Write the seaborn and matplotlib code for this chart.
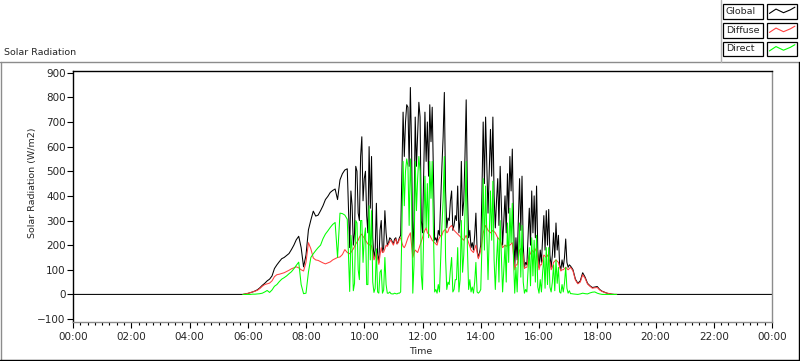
import numpy as np
import pandas as pd
import matplotlib
matplotlib.use('Agg')
import matplotlib.pyplot as plt
import seaborn as sns
from matplotlib.patches import Rectangle
from matplotlib.lines import Line2D
from matplotlib.ticker import MultipleLocator, FuncFormatter

# =========================
# Solar radiation, one day (W/m2)
# morning / evening every 5 min, broken-cloud period every 2.5 min
# =========================
morning_min = np.arange(350, 566, 5)      # 05:50 - 09:25
cloudy_min = np.arange(570, 1028, 2.5)    # 09:30 - 17:07.5
evening_min = np.arange(1030, 1121, 5)    # 17:10 - 18:40

global_morning = [
    0, 2,
    4, 7, 10, 14, 19, 27, 37, 45, 55, 62, 75, 105,
    120, 133, 145, 150, 158, 166, 182, 200, 222, 236, 190, 112,
    160, 262, 302, 338, 318, 322, 340, 360, 385, 398, 414, 422,
    428, 385, 465, 490, 505, 510,
]
diffuse_morning = [
    0, 2,
    4, 7, 10, 13, 17, 24, 33, 40, 43, 46, 55, 72,
    80, 82, 85, 88, 93, 98, 104, 108, 112, 108, 100, 95,
    130, 210, 185, 148, 140, 138, 133, 128, 124, 128, 132, 140,
    145, 150, 152, 162, 182, 170,
]
direct_morning = [
    0, 0,
    0, 0, 1, 1, 2, 3, 5, 10, 16, 8, 18, 33,
    40, 52, 62, 68, 75, 84, 92, 104, 118, 131, 40, 3,
    5, 90, 150, 165, 178, 190, 200, 226, 245, 258, 272, 284,
    292, 150, 330, 328, 322, 305,
]

# one line per half hour
global_cloudy = [
    190, 420, 360, 200, 250, 520, 500, 330, 300, 560, 640, 380,
    470, 500, 320, 250, 600, 350, 560, 230, 150, 180, 370, 160,
    130, 260, 300, 170, 190, 340, 250, 200, 210, 230, 225, 215,
    205, 225, 230, 205, 215, 230, 240, 480, 740, 560, 700, 770,
    760, 520, 840, 600, 160, 300, 720, 520, 650, 780, 720, 300,
    250, 500, 740, 540, 700, 480, 770, 620, 760, 480, 220, 230,
    210, 260, 240, 380, 520, 640, 820, 420, 270, 310, 300, 380,
    420, 260, 280, 320, 300, 440, 250, 300, 540, 320, 380, 560,
    790, 420, 230, 260, 190, 210, 180, 240, 330, 180, 150, 170,
    200, 420, 700, 450, 720, 520, 330, 500, 670, 480, 720, 400,
    270, 380, 470, 280, 520, 360, 200, 300, 400, 250, 490, 330,
    560, 420, 590, 300, 110, 230, 140, 300, 470, 260, 480, 200,
    110, 130, 120, 240, 350, 200, 420, 250, 400, 230, 440, 180,
    110, 180, 130, 230, 320, 180, 340, 200, 345, 160, 110, 160,
    250, 150, 290, 180, 240, 120, 100, 140, 110, 150, 225, 130,
    110, 120, 115, 108,
]
diffuse_cloudy = [
    165, 170, 178, 185, 195, 205, 212, 220, 232, 240, 245, 235,
    230, 220, 212, 205, 200, 205, 196, 170, 140, 150, 172, 150,
    122, 160, 190, 170, 172, 185, 200, 195, 205, 215, 220, 210,
    200, 215, 225, 205, 210, 225, 230, 210, 195, 190, 200, 215,
    230, 240, 250, 200, 150, 170, 180, 175, 170, 185, 200, 215,
    230, 250, 260, 270, 250, 245, 240, 230, 220, 215, 210, 205,
    200, 220, 230, 240, 240, 255, 260, 265, 250, 255, 270, 275,
    280, 270, 260, 255, 250, 245, 240, 235, 230, 225, 220, 230,
    240, 225, 210, 195, 180, 175, 170, 185, 200, 170, 145, 160,
    180, 215, 250, 265, 280, 270, 260, 255, 250, 255, 260, 255,
    250, 240, 230, 225, 220, 205, 190, 195, 200, 195, 200, 200,
    200, 205, 210, 160, 100, 120, 120, 150, 180, 185, 190, 150,
    105, 110, 110, 140, 160, 165, 180, 175, 170, 180, 190, 150,
    100, 120, 120, 140, 160, 155, 150, 160, 150, 130, 100, 110,
    130, 135, 140, 135, 130, 110, 95, 100, 100, 105, 110, 105,
    100, 105, 110, 103,
]
direct_cloudy = [
    12, 240, 180, 15, 45, 300, 290, 100, 60, 300, 300, 130,
    230, 270, 40, 40, 360, 140, 340, 50, 8, 25, 185, 10,
    5, 90, 100, 5, 18, 150, 40, 5, 5, 10, 3, 2,
    2, 5, 3, 2, 5, 5, 10, 260, 540, 360, 500, 550,
    520, 280, 550, 390, 5, 120, 540, 340, 470, 560, 500, 80,
    20, 240, 480, 270, 450, 230, 540, 390, 540, 260, 10, 20,
    5, 40, 10, 140, 280, 380, 560, 150, 20, 50, 40, 100,
    150, 10, 20, 60, 60, 190, 10, 60, 300, 90, 160, 330,
    540, 190, 20, 60, 10, 30, 5, 50, 130, 10, 5, 10,
    20, 200, 470, 180, 440, 250, 60, 240, 420, 220, 460, 140,
    20, 140, 230, 50, 300, 150, 10, 100, 200, 50, 290, 130,
    350, 210, 370, 140, 5, 110, 10, 150, 290, 70, 280, 50,
    5, 20, 10, 100, 190, 35, 230, 75, 220, 50, 240, 30,
    5, 60, 10, 90, 150, 25, 190, 40, 190, 30, 10, 50,
    120, 15, 140, 45, 110, 10, 5, 40, 10, 45, 110, 25,
    5, 15, 3, 3,
]

global_evening = [100, 62, 45, 55, 88, 70, 45, 35, 28, 30, 32, 20, 13, 9, 5, 3, 1, 0, 0]
diffuse_evening = [95, 58, 43, 50, 80, 65, 42, 33, 25, 27, 28, 18, 12, 8, 5, 3, 1, 0, 0]
direct_evening = [2, 1, 0, 2, 5, 3, 2, 6, 9, 10, 5, 2, 0, 0, 0, 0, 0, 0, 0]

hours = np.concatenate([morning_min, cloudy_min, evening_min]) / 60
df = pd.DataFrame({
    'hour': hours,
    'Global': global_morning + global_cloudy + global_evening,
    'Diffuse': diffuse_morning + diffuse_cloudy + diffuse_evening,
    'Direct': direct_morning + direct_cloudy + direct_evening,
})

# global is logged for the whole day (zero at night)
night = pd.DataFrame({'hour': [0.0, 24.0], 'Global': [0, 0]})
df_global = pd.concat([night.iloc[:1], df[['hour', 'Global']], night.iloc[1:]])

sns.set_style('white')
plt.rcParams['font.family'] = ['DejaVu Sans']

W, H = 800, 361
fig = plt.figure(figsize=(W / 100, H / 100), dpi=100)
ax = fig.add_axes([73 / W, 1 - 322 / H, (772 - 73) / W, (322 - 71) / H])

sns.lineplot(data=df_global, x='hour', y='Global', color='black', lw=0.75,
             estimator=None, sort=False, ax=ax)
sns.lineplot(data=df, x='hour', y='Diffuse', color='#ff4040', lw=0.75,
             estimator=None, sort=False, ax=ax)
sns.lineplot(data=df, x='hour', y='Direct', color='#00ff00', lw=0.75,
             estimator=None, sort=False, ax=ax)

ax.set_xlim(0, 24)
ax.set_ylim(-112, 907)
ax.xaxis.set_major_locator(MultipleLocator(2))
ax.xaxis.set_minor_locator(MultipleLocator(0.25))
ax.yaxis.set_major_locator(MultipleLocator(100))
ax.xaxis.set_major_formatter(FuncFormatter(lambda v, p: f"{int(round(v)) % 24:02d}:00"))

ax.tick_params(axis='x', which='major', direction='out', length=4.5, width=0.8,
               pad=2.5, labelsize=7.5, bottom=True, color='black')
ax.tick_params(axis='x', which='minor', direction='out', length=2.2, width=0.8,
               bottom=True, color='black')
ax.tick_params(axis='y', direction='out', length=4.3, width=0.8, pad=1,
               labelsize=7.5, left=True, color='black')

for side in ['left', 'top']:
    ax.spines[side].set_color('black')
    ax.spines[side].set_linewidth(1)
for side in ['right', 'bottom']:
    ax.spines[side].set_color('#8c8c8c')
    ax.spines[side].set_linewidth(1)

ax.set_ylabel('Solar Radiation (W/m2)', fontsize=6.8)
ax.yaxis.set_label_coords(-0.0515, 0.554)
ax.set_xlabel('Time', fontsize=6.8, va='top')
ax.xaxis.set_label_coords((421 - 73) / 699, -(347 - 322) / 251)

# panel title and frame
fig.text(4 / W, 1 - 52.5 / H, 'Solar Radiation', fontsize=6.8, ha='left', va='center')

def fline(xs, ys, color):
    fig.add_artist(Line2D([x / W for x in xs], [1 - y / H for y in ys],
                          color=color, lw=1, transform=fig.transFigure))

fline([0, 800], [61.5, 61.5], '#8c8c8c')
fline([1, 1], [61.5, 361], '#8c8c8c')
fline([721, 721], [0, 61.5], '#b0b0b0')
fline([0, 799], [359.5, 359.5], 'black')
fline([798.5, 798.5], [61.5, 361], 'black')

# legend boxes (LabVIEW style)
legend_names = ['Global', 'Diffuse', 'Direct']
legend_colors = ['black', '#ff4040', '#00ff00']
row_tops = [4, 23, 41.5]
zig_x = [0.08, 0.3, 0.55, 0.78, 0.93]
zig_y = [0.35, 0.65, 0.4, 0.6, 0.78]
for name, col, top in zip(legend_names, legend_colors, row_tops):
    h = 14.5
    fig.add_artist(Rectangle((723 / W, 1 - (top + h) / H), 40 / W, h / H,
                             transform=fig.transFigure, facecolor='white',
                             edgecolor='black', lw=0.9))
    fig.text(726 / W, 1 - (top + h / 2) / H, name, fontsize=6.8, ha='left', va='center')
    fig.add_artist(Rectangle((767 / W, 1 - (top + h) / H), 30 / W, h / H,
                             transform=fig.transFigure, facecolor='white',
                             edgecolor='black', lw=0.9))
    fig.add_artist(Line2D([(767 + 30 * zx) / W for zx in zig_x],
                          [1 - (top + h - h * zy) / H for zy in zig_y],
                          color=col, lw=0.8, transform=fig.transFigure))

fig.savefig('out.png', dpi=100)
